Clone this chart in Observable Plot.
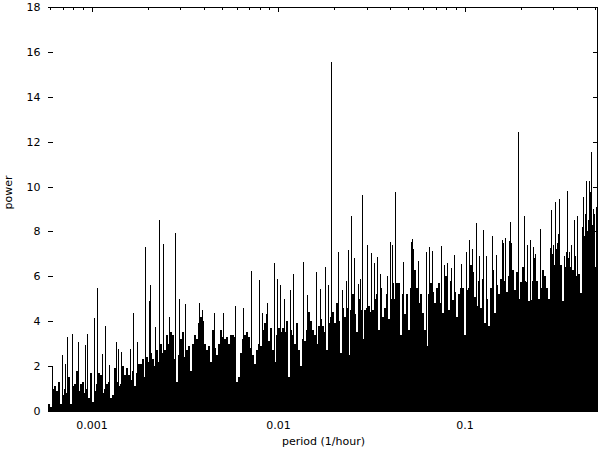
<!DOCTYPE html>
<html><head><meta charset="utf-8">
<script src="https://cdn.jsdelivr.net/npm/d3@7"></script>
<script src="https://cdn.jsdelivr.net/npm/@observablehq/plot@0.6"></script>
<style>html,body{margin:0;padding:0;background:#fff} svg{display:block}</style>
</head><body><div id="chart"></div>
<script>
// ---- axis ticks ----
const yTicks = [0, 2, 4, 6, 8, 10, 12, 14, 16, 18];
const xMajorTicks = [0.001, 0.01, 0.1];
const xMinorTicks = [0.0006, 0.0007, 0.0008, 0.0009,
  0.002, 0.003, 0.004, 0.005, 0.006, 0.007, 0.008, 0.009,
  0.02, 0.03, 0.04, 0.05, 0.06, 0.07, 0.08, 0.09,
  0.2, 0.3, 0.4, 0.5];
const xDomain = [0.00058445, 0.51972];
const yDomain = [0, 18];

// ---- dense periodogram body, sampled on a regular log-frequency grid (2 px columns) ----
const gridLogStart = -3.230563;   // log10 of first sampled frequency
const gridLogStep = 0.0107239;    // log10 step between samples
const basePower = [
  0.3, 0.2, 1.0, 1.1, 0.9, 1.3, 0.3, 0.7, 1.0, 0.8,
  1.5, 0.3, 1.1, 1.2, 1.8, 0.9, 1.2, 1.3, 0.8, 1.0,
  0.6, 1.7, 0.4, 0.9, 1.2, 1.7, 1.6, 0.8, 1.0, 1.2,
  1.3, 0.6, 0.7, 1.9, 1.3, 1.1, 1.2, 2.0, 1.6, 1.9,
  1.6, 1.4, 1.8, 1.1, 1.7, 2.1, 2.1, 2.3, 1.5, 2.4,
  2.2, 2.6, 2.3, 2.0, 2.7, 2.2, 3.0, 2.6, 2.7, 3.4,
  3.0, 3.5, 3.4, 2.3, 1.3, 2.5, 3.2, 3.5, 2.4, 2.7,
  2.9, 1.8, 3.0, 3.4, 3.2, 3.9, 4.2, 4.0, 3.0, 2.7,
  2.9, 2.2, 3.6, 2.8, 2.5, 3.0, 3.6, 3.3, 3.2, 3.3,
  3.0, 3.4, 3.4, 3.3, 1.3, 1.5, 2.6, 3.2, 3.4, 3.5,
  3.3, 2.8, 2.5, 2.1, 2.7, 3.0, 2.9, 3.6, 3.9, 4.3,
  3.1, 3.7, 2.7, 2.2, 3.4, 3.7, 3.5, 3.7, 3.5, 4.0,
  1.5, 3.6, 3.4, 3.0, 3.9, 2.7, 2.0, 3.2, 3.1, 3.6,
  4.4, 4.0, 3.6, 3.4, 3.0, 3.8, 4.1, 3.8, 3.5, 2.7,
  3.9, 4.2, 4.4, 3.9, 4.8, 4.0, 2.6, 4.6, 4.2, 4.6,
  2.5, 4.5, 5.2, 4.3, 3.5, 5.0, 4.5, 3.2, 4.5, 4.6,
  4.7, 4.4, 4.5, 5.0, 5.2, 3.6, 5.5, 4.2, 4.6, 5.2,
  4.1, 5.0, 5.7, 5.0, 5.7, 5.7, 3.4, 5.2, 4.3, 5.2,
  3.6, 5.5, 5.6, 6.3, 5.5, 4.8, 5.2, 4.35, 3.6, 2.9,
  5.2, 5.7, 5.3, 4.8, 5.5, 5.7, 4.8, 4.35, 6.0, 6.0,
  4.5, 5.8, 4.95, 5.3, 4.2, 5.2, 5.5, 5.5, 3.4, 5.4,
  5.5, 6.5, 6.2, 5.1, 4.7, 5.8, 4.6, 5.9, 3.9, 5.0,
  3.8, 5.5, 6.3, 4.35, 5.6, 5.2, 5.9, 6.3, 5.8, 5.3,
  6.0, 6.5, 6.3, 5.4, 6.2, 5.0, 5.75, 6.4, 5.8, 5.75,
  4.9, 4.95, 5.8, 6.8, 5.8, 5.0, 5.5, 6.3, 6.0, 5.5,
  5.0, 6.5, 7.0, 6.5, 7.2, 7.0, 6.5, 4.9, 6.4, 6.6,
  6.8, 6.4, 6.3, 6.6, 6.0, 6.1, 5.25, 7.8, 7.8, 8.0,
  8.5, 8.0, 8.3, 6.4, 8.0
];

// ---- isolated tall impulses ----
const spikeFreq = [
  0.000612, 0.000697, 0.000724, 0.000739, 0.000789, 0.000850, 0.000927, 0.000943,
  0.001035, 0.001074, 0.001143, 0.001186, 0.001246, 0.001353, 0.001392, 0.001439,
  0.001614, 0.001675, 0.001754, 0.001943, 0.002034, 0.002059, 0.002199, 0.002310,
  0.002427, 0.002594, 0.002814, 0.002956, 0.003184, 0.003784, 0.003913, 0.004553,
  0.005052, 0.005902, 0.006516, 0.007192, 0.007938, 0.008209, 0.008699, 0.009555,
  0.009877, 0.01029, 0.01081, 0.01164, 0.01204, 0.01361, 0.01430, 0.01599,
  0.01680, 0.01780, 0.01854, 0.01931, 0.02106, 0.02196, 0.02324, 0.02382,
  0.02472, 0.02566, 0.02685, 0.02763, 0.02832, 0.03001, 0.03164, 0.03284,
  0.03408, 0.03536, 0.03841, 0.04000, 0.04101, 0.04256, 0.04663, 0.05146,
  0.05211, 0.05315, 0.05655, 0.06242, 0.06477, 0.06721, 0.07455, 0.07737,
  0.08029, 0.08499, 0.08818, 0.09542, 0.1019, 0.1057, 0.1093, 0.1153,
  0.1196, 0.1261, 0.1304, 0.1409, 0.1481, 0.1583, 0.1603, 0.1655,
  0.1726, 0.1747, 0.1782, 0.1936, 0.2093, 0.2172, 0.2245, 0.2330,
  0.2379, 0.2549, 0.2873, 0.2920, 0.2971, 0.3069, 0.3122, 0.3172,
  0.3224, 0.3404, 0.3502, 0.3559, 0.3621, 0.3739, 0.3865, 0.3928,
  0.3996, 0.4282, 0.4335, 0.4411, 0.4483, 0.4634, 0.4709, 0.4786,
  0.4869, 0.4948, 0.5090
];
const spikePower = [
  2.0, 2.5, 2.1, 3.3, 3.43, 3.07, 2.94, 3.43,
  4.14, 5.46, 2.54, 3.79, 2.05, 3.07, 2.75, 2.63,
  2.75, 4.35, 3.07, 7.32, 4.9, 5.61, 3.76, 8.5,
  7.44, 4.2, 7.91, 4.97, 4.77, 4.8, 4.5, 4.35,
  4.35, 4.68, 4.57, 6.24, 5.83, 4.38, 4.8, 6.59,
  5.9, 5.6, 5.0, 5.39, 6.1, 6.64, 5.16, 6.18,
  5.44, 6.4, 5.6, 15.56, 7.08, 5.4, 5.8, 7.17,
  8.69, 6.8, 5.66, 5.9, 9.62, 7.39, 7.05, 6.6,
  6.87, 6.1, 6.0, 7.52, 7.38, 9.76, 6.64, 7.53,
  7.68, 7.2, 6.7, 7.1, 7.32, 7.14, 7.35, 6.5,
  6.6, 6.37, 6.95, 6.54, 7.1, 7.64, 7.2, 8.37,
  6.9, 8.07, 6.9, 7.8, 6.95, 7.62, 7.5, 7.7,
  7.57, 8.43, 7.5, 12.44, 8.68, 7.4, 7.6, 7.32,
  7.0, 8.13, 7.25, 8.95, 7.4, 9.33, 7.5, 7.9,
  9.45, 6.9, 7.1, 9.82, 7.1, 7.4, 8.49, 6.9,
  8.68, 8.2, 9.53, 8.77, 10.25, 10.25, 9.75, 11.55,
  9.0, 8.77, 9.08
];

const base = basePower.map((p, i) => ({f: Math.pow(10, gridLogStart + i * gridLogStep), p}));
const spikes = spikeFreq.map((f, i) => ({f, p: spikePower[i]}));

const chart = Plot.plot({
  width: 600,
  height: 453,
  marginLeft: 48,
  marginRight: 2,
  marginTop: 7,
  marginBottom: 42,
  style: {fontFamily: "'DejaVu Sans', sans-serif", fontSize: "11px", color: "black", background: "white"},
  x: {type: "log", domain: xDomain},
  y: {domain: yDomain},
  marks: [
    // bottom ticks (under the data)
    Plot.tickX(xMajorTicks, {x: d => d, insetTop: 399, stroke: "black", shapeRendering: "crispEdges"}),
    // data body
    Plot.ruleX(base, {x: "f", y1: 0, y2: "p", stroke: "black", strokeWidth: 2, shapeRendering: "crispEdges"}),
    Plot.ruleX(spikes, {x: "f", y1: 0, y2: "p", stroke: "black", strokeWidth: 1, shapeRendering: "crispEdges"}),
    // border: bottom, top, right
    Plot.ruleY([0], {stroke: "black", shapeRendering: "crispEdges"}),
    Plot.ruleY([18], {stroke: "black", shapeRendering: "crispEdges"}),
    Plot.ruleX([xDomain[1]], {stroke: "black", dx: -1, shapeRendering: "crispEdges"}),
    // y ticks, left and right (inward)
    Plot.tickY(yTicks, {y: d => d, insetRight: 545, stroke: "black", shapeRendering: "crispEdges"}),
    Plot.tickY(yTicks, {y: d => d, insetLeft: 545, stroke: "black", shapeRendering: "crispEdges"}),
    // top ticks (inward)
    Plot.tickX(xMajorTicks, {x: d => d, insetBottom: 399, stroke: "black", shapeRendering: "crispEdges"}),
    Plot.tickX(xMinorTicks, {x: d => d, insetBottom: 401, stroke: "black", shapeRendering: "crispEdges"}),
    // tick labels
    Plot.axisY({ticks: yTicks, tickSize: 0, tickPadding: 8, label: null, tickFormat: d => String(d)}),
    Plot.axisX({ticks: xMajorTicks, tickSize: 0, tickPadding: 10, label: null, tickFormat: d => String(d)}),
    // axis titles
    Plot.text(["power"], {frameAnchor: "left", dx: -40, rotate: -90, fill: "black"}),
    Plot.text(["period (1/hour)"], {frameAnchor: "bottom", dy: 33, fill: "black"})
  ]
});
document.getElementById("chart").appendChild(chart);
</script>
</body></html>
